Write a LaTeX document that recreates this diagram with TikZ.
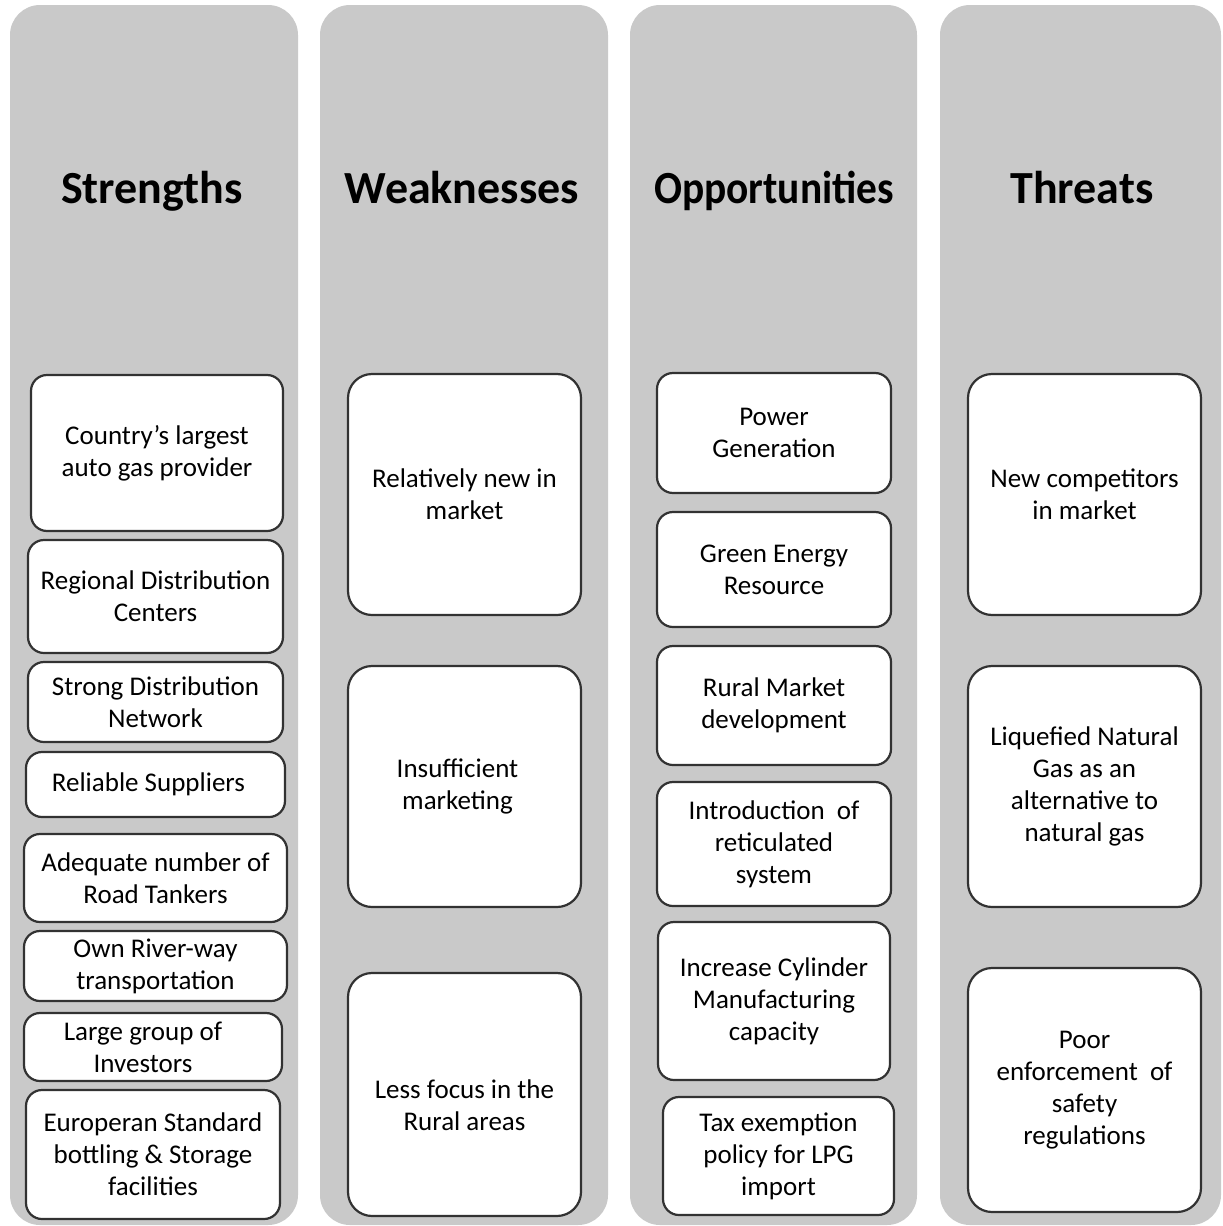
\documentclass[tikz,border=0pt]{standalone}
\usepackage{graphicx}
\usepackage{fontspec}
\setmainfont{Carlito}
\definecolor{colgray}{RGB}{201,201,201}
\definecolor{boxline}{RGB}{50,50,50}

\begin{document}
\begin{tikzpicture}[x=0.5pt, y=-0.5pt,
    column node/.style={rectangle, rounded corners=15pt, fill=colgray, minimum width=144pt, minimum height=610pt, inner sep=0pt},
    head node/.style={anchor=base, inner sep=0pt, font=\bfseries\fontsize{23}{26}\selectfont},
    item node/.style={rectangle, rounded corners=8pt, draw=boxline, line width=1.1pt, fill=white, align=center, inner sep=0pt, font=\fontsize{13.5}{16}\selectfont},
    big node/.style={item node, rounded corners=12pt, minimum width=116.5pt, minimum height=120.5pt}]
        \useasboundingbox (0,0) rectangle (1222,1226);

          % the four columns
          \node[column node] (S) at (154,615) {};
          \node[column node] (W) at (464,615) {};
          \node[column node, minimum width=143.5pt] (O) at (773.5,615) {};
          \node[column node, minimum width=140.5pt] (T) at (1080.5,615) {};

          \node[head node] (hs) at (152,203) {Strengths};
          \node[head node] (hw) at (462,203) {Weaknesses};
          \node[head node] (ho) at (774,203) {\scalebox{0.9}[1]{Opportunities}};
          \node[head node] (ht) at (1082,203) {Threats};

          % strengths
          \node[item node, minimum width=126pt, minimum height=78pt] (s1) at (157,453) {Country's largest\\auto gas provider};
          \node[item node, minimum width=127.5pt, minimum height=56.5pt] (s2) at (155.5,596.5) {Regional Distribution\\Centers};
          \node[item node, minimum width=127.5pt, minimum height=40pt] (s3) at (155.5,702) {Strong Distribution\\Network};
          \node[item node, minimum width=129.5pt, minimum height=32.5pt] (s4) at (155.5,784.5) {Reliable Suppliers\hspace*{7pt}};
          \node[item node, minimum width=131.5pt, minimum height=44pt] (s5) at (155.5,878) {Adequate number of\\Road Tankers};
          \node[item node, minimum width=131.5pt, minimum height=35pt] (s6) at (155.5,966) {Own River-way\\transportation};
          \node[item node, minimum width=129pt, minimum height=34pt] (s7) at (153,1047) {Large group of\hspace*{10pt}\\Investors\hspace*{10pt}};
          \node[item node, minimum width=127pt, minimum height=64.5pt] (s8) at (153,1154.5) {Europeran Standard\\bottling \& Storage\\facilities};

          % weaknesses
          \node[big node] (w1) at (464.5,494.5) {Relatively new in\\market};
          \node[big node] (w2) at (464.5,786.5) {Insufficient\hspace*{7pt}\\marketing\hspace*{7pt}};
          \node[big node, minimum height=121.5pt] (w3) at (464.5,1094.5) {\\[4pt]Less focus in the\\Rural areas};

          % opportunities
          \node[item node, minimum width=117pt, minimum height=60pt] (o1) at (774,433) {Power\\Generation};
          \node[item node, minimum width=117pt, minimum height=57.5pt] (o2) at (774,569.5) {Green Energy\\Resource};
          \node[item node, minimum width=117pt, minimum height=59.5pt] (o3) at (774,705.5) {Rural Market\\development};
          \node[item node, minimum width=117pt, minimum height=62pt] (o4) at (774,844) {Introduction\ \ of\\reticulated\\system};
          \node[item node, minimum width=116pt, minimum height=79pt] (o5) at (774,1001) {Increase Cylinder\\Manufacturing\\capacity};
          \node[item node, minimum width=115.5pt, minimum height=59pt] (o6) at (778.5,1156) {Tax exemption\\policy for LPG\\import};

          % threats
          \node[big node] (t1) at (1084.5,494.5) {New competitors\\in market};
          \node[big node] (t2) at (1084.5,786.5) {Liquefied Natural\\Gas as an\\alternative to\\natural gas};
          \node[big node, minimum height=122pt] (t3) at (1084.5,1090) {Poor\\enforcement\ \ of\\safety\\regulations};

        \end{tikzpicture}
\end{document}
